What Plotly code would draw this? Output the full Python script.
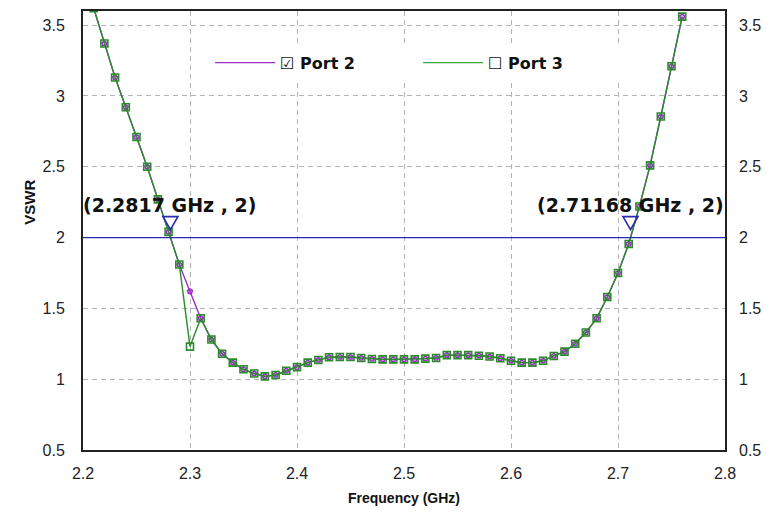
import plotly.graph_objects as go

# Frequency sweep (GHz)
freq = [round(2.21 + 0.01 * i, 2) for i in range(56)]

# VSWR readings per port
vswr_port2 = [
    3.62, 3.37, 3.13, 2.92, 2.71, 2.50, 2.27, 2.04, 1.81, 1.62,
    1.43, 1.28, 1.18, 1.117, 1.07, 1.04, 1.02, 1.03, 1.06, 1.085,
    1.117, 1.136, 1.155, 1.157, 1.157, 1.15, 1.143, 1.14, 1.14, 1.14,
    1.14, 1.145, 1.15, 1.17, 1.17, 1.17, 1.166, 1.16, 1.148, 1.13,
    1.117, 1.117, 1.13, 1.164, 1.195, 1.25, 1.33, 1.43, 1.58, 1.75,
    1.955, 2.22, 2.51, 2.855, 3.21, 3.56,
]
vswr_port3 = [
    3.62, 3.37, 3.13, 2.92, 2.71, 2.50, 2.27, 2.04, 1.81, 1.23,
    1.43, 1.28, 1.18, 1.117, 1.07, 1.04, 1.02, 1.03, 1.06, 1.085,
    1.117, 1.136, 1.155, 1.157, 1.157, 1.15, 1.143, 1.14, 1.14, 1.14,
    1.14, 1.145, 1.15, 1.17, 1.17, 1.17, 1.166, 1.16, 1.148, 1.13,
    1.117, 1.117, 1.13, 1.164, 1.195, 1.25, 1.33, 1.43, 1.58, 1.75,
    1.955, 2.22, 2.51, 2.855, 3.21, 3.56,
]

# VSWR = 2 crossing markers
marker_freq = [2.2817, 2.71168]
marker_vswr = [2, 2]
threshold = 2

x_ticks = [2.2, 2.3, 2.4, 2.5, 2.6, 2.7, 2.8]
y_ticks = [0.5, 1, 1.5, 2, 2.5, 3, 3.5]
y_ticktext = ["0.5", "1", "1.5", "2", "2.5", "3", "3.5"]

PURPLE = "#9a2fc8"
GREEN = "#2a8c2a"
GREEN_LEG = "#3aa83a"
BLUE = "#2a2ab0"
FONT = "Liberation Sans"
LABEL_FONT = "DejaVu Sans"

fig = go.Figure()

fig.add_trace(go.Scatter(
    x=freq, y=vswr_port2, mode="lines+markers", showlegend=False,
    line=dict(color=PURPLE, width=1.4),
    marker=dict(symbol="pentagon-open", size=5, color=PURPLE, line=dict(width=1.6)),
))
fig.add_trace(go.Scatter(
    x=freq, y=vswr_port3, mode="lines+markers", showlegend=False,
    line=dict(color=GREEN, width=1.4),
    marker=dict(symbol="square-open", size=7, color=GREEN, line=dict(width=1.6)),
))

# legend entries (also carry the right-hand VSWR axis)
fig.add_trace(go.Scatter(
    x=[None], y=[None], mode="lines", name="<b>☑ Port 2</b>", yaxis="y2",
    line=dict(color=PURPLE, width=1.4),
))
fig.add_trace(go.Scatter(
    x=[None], y=[None], mode="lines", name="<b>☐ Port 3</b>", yaxis="y2",
    line=dict(color=GREEN_LEG, width=1.4),
))

# threshold line
fig.add_shape(type="line", xref="paper", x0=0, x1=1, y0=threshold, y1=threshold,
              line=dict(color=BLUE, width=1.2), layer="above")

for f, v in zip(marker_freq, marker_vswr):
    # open down-pointing triangle sitting just above the crossing point
    fig.add_shape(type="path", xref="x", yref="y",
                  xsizemode="pixel", ysizemode="pixel", xanchor=f, yanchor=v,
                  path="M -7.5 21 L 7.5 21 L 0 8 Z",
                  line=dict(color=BLUE, width=1.6), fillcolor="rgba(0,0,0,0)",
                  layer="above")
    fig.add_annotation(x=f, y=v, text=f"<b>({f:g} GHz , {v:g})</b>", showarrow=False,
                       yanchor="middle", yshift=33,
                       font=dict(family=LABEL_FONT, size=19, color="#111"))

# rotated y-axis title
fig.add_annotation(xref="paper", yref="paper", x=-0.083, y=0.565, text="<b>VSWR</b>",
                   textangle=-90, showarrow=False, xanchor="center", yanchor="middle",
                   font=dict(family=FONT, size=15, color="#111"))

grid = dict(showgrid=True, gridcolor="#b4b4b4", gridwidth=1, griddash="5px,4px")

fig.update_layout(
    width=766, height=513,
    margin=dict(l=83, r=41, t=11, b=63),
    paper_bgcolor="white", plot_bgcolor="white",
    font=dict(family=FONT, size=16, color="#222"),
    showlegend=True,
    legend=dict(
        orientation="h", x=0.198, y=0.921, xanchor="left", yanchor="top",
        bgcolor="white", entrywidth=133, entrywidthmode="pixels",
        font=dict(family=LABEL_FONT, size=16, color="#111"), itemwidth=60,
    ),
    xaxis=dict(
        range=[2.2, 2.8], tickvals=x_ticks, ticktext=[f"{t:.1f}" for t in x_ticks],
        ticks="", ticklabelstandoff=8, automargin=False,
        showline=True, linecolor="#222", linewidth=2, mirror=True, zeroline=False,
        title=dict(text="<b>Frequency (GHz)</b>", font=dict(size=14, color="#111"), standoff=12),
        **grid,
    ),
    yaxis=dict(
        range=[0.5, 3.6], tickvals=y_ticks, ticktext=y_ticktext,
        ticks="", ticklabelstandoff=13, automargin=False,
        showline=True, linecolor="#222", linewidth=2, mirror=True, zeroline=False,
        **grid,
    ),
    yaxis2=dict(
        range=[0.5, 3.6], tickvals=y_ticks, ticktext=y_ticktext,
        overlaying="y", side="right", ticks="", ticklabelstandoff=13, automargin=False,
        showgrid=False, zeroline=False, showline=False,
    ),
)

fig.write_html("out.html")
